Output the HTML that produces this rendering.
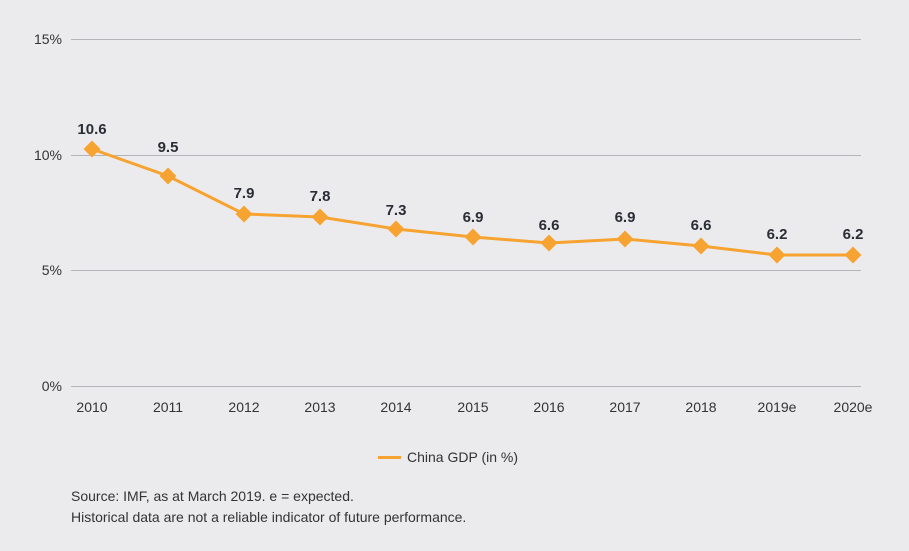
<!DOCTYPE html>
<html><head><style>
html,body{margin:0;padding:0;background:#ebebed;}
svg{display:block;font-family:"Liberation Sans",sans-serif;}
</style></head><body>
<svg width="909" height="551" viewBox="0 0 909 551">
<rect width="909" height="551" fill="#ebebed"/>
<g stroke="#b4b4b8" stroke-width="1">
<line x1="71" y1="39.5" x2="861" y2="39.5"/>
<line x1="71" y1="155.5" x2="861" y2="155.5"/>
<line x1="71" y1="270.5" x2="861" y2="270.5"/>
<line x1="71" y1="386.5" x2="861" y2="386.5"/>
</g>
<g font-size="14" fill="#333" text-anchor="end">
<text x="62" y="44">15%</text>
<text x="62" y="160">10%</text>
<text x="62" y="275">5%</text>
<text x="62" y="391">0%</text>
</g>
<g font-size="14" fill="#333" text-anchor="middle">
<text x="92" y="412">2010</text><text x="168" y="412">2011</text><text x="244" y="412">2012</text><text x="320" y="412">2013</text><text x="396" y="412">2014</text><text x="473" y="412">2015</text><text x="549" y="412">2016</text><text x="625" y="412">2017</text><text x="701" y="412">2018</text><text x="777" y="412">2019e</text><text x="853" y="412">2020e</text>
</g>
<polyline fill="none" stroke="#f7a331" stroke-width="3" points="92,149 168,176 244,214 320,217 396,229 473,237 549,243 625,239 701,246 777,255 853,255"/>
<g fill="#f7a331">
<rect x="-6" y="-6" width="12" height="12" transform="translate(92,149) rotate(45)"/>
<rect x="-6" y="-6" width="12" height="12" transform="translate(168,176) rotate(45)"/>
<rect x="-6" y="-6" width="12" height="12" transform="translate(244,214) rotate(45)"/>
<rect x="-6" y="-6" width="12" height="12" transform="translate(320,217) rotate(45)"/>
<rect x="-6" y="-6" width="12" height="12" transform="translate(396,229) rotate(45)"/>
<rect x="-6" y="-6" width="12" height="12" transform="translate(473,237) rotate(45)"/>
<rect x="-6" y="-6" width="12" height="12" transform="translate(549,243) rotate(45)"/>
<rect x="-6" y="-6" width="12" height="12" transform="translate(625,239) rotate(45)"/>
<rect x="-6" y="-6" width="12" height="12" transform="translate(701,246) rotate(45)"/>
<rect x="-6" y="-6" width="12" height="12" transform="translate(777,255) rotate(45)"/>
<rect x="-6" y="-6" width="12" height="12" transform="translate(853,255) rotate(45)"/>
</g>
<g font-size="15" font-weight="bold" fill="#2a2d35" text-anchor="middle">
<text x="92" y="134">10.6</text><text x="168" y="152">9.5</text><text x="244" y="198">7.9</text><text x="320" y="201">7.8</text><text x="396" y="215">7.3</text><text x="473" y="222">6.9</text><text x="549" y="230">6.6</text><text x="625" y="222">6.9</text><text x="701" y="230">6.6</text><text x="777" y="239">6.2</text><text x="853" y="239">6.2</text>
</g>
<line x1="378" y1="457.5" x2="401" y2="457.5" stroke="#f7a331" stroke-width="3"/>
<text x="407" y="462" font-size="14" fill="#333">China GDP (in %)</text>
<text x="71" y="501" font-size="14" fill="#333">Source: IMF, as at March 2019. e = expected.</text>
<text x="71" y="522" font-size="14" fill="#333">Historical data are not a reliable indicator of future performance.</text>
</svg>
</body></html>
